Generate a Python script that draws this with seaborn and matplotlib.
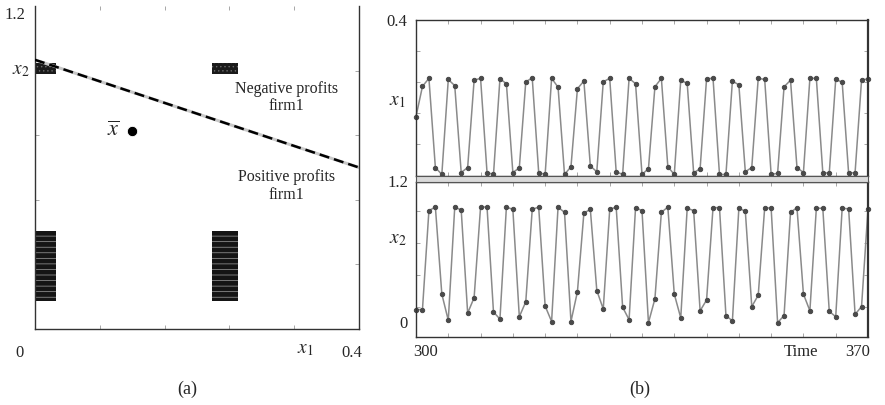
import numpy as np
import seaborn as sns
import matplotlib.pyplot as plt
from matplotlib.patches import Rectangle

# panel (a): boundary line x2 = 1 - x1, mean point, attractor clusters
boundary_x1 = [0.0, 0.4]
boundary_x2 = [1.0, 0.6]
mean_x1 = [0.12]
mean_x2 = [0.735]
# clusters as (x1 min, x1 max, x2 min, x2 max)
clusters_top = [(0.001, 0.026, 0.947, 0.99), (0.219, 0.25, 0.947, 0.99)]
clusters_bottom = [(0.001, 0.026, 0.104, 0.364), (0.219, 0.251, 0.104, 0.364)]

# panel (b): time series 300..370
time = np.arange(300, 371)
x1 = [0.15, 0.228, 0.249, 0.018, 0.0, 0.246, 0.23, 0.005, 0.018, 0.244,
      0.249, 0.005, 0.0, 0.248, 0.235, 0.005, 0.017, 0.24, 0.25, 0.005,
      0.0, 0.249, 0.226, 0.0, 0.02, 0.222, 0.242, 0.022, 0.007, 0.24,
      0.249, 0.007, 0.0, 0.249, 0.235, 0.0, 0.015, 0.227, 0.249, 0.02,
      0.0, 0.244, 0.236, 0.004, 0.015, 0.248, 0.249, 0.0, 0.0, 0.242,
      0.232, 0.007, 0.018, 0.249, 0.246, 0.0, 0.003, 0.227, 0.244, 0.018,
      0.005, 0.249, 0.249, 0.005, 0.003, 0.246, 0.239, 0.003, 0.005, 0.244,
      0.248]
x2 = [0.13, 0.13, 0.96, 0.99, 0.26, 0.04, 0.99, 0.965, 0.10, 0.23,
      0.99, 0.99, 0.11, 0.05, 0.99, 0.97, 0.07, 0.195, 0.97, 0.99,
      0.16, 0.03, 0.99, 0.945, 0.03, 0.28, 0.94, 0.97, 0.29, 0.135,
      0.97, 0.99, 0.15, 0.045, 0.985, 0.96, 0.02, 0.22, 0.945, 0.99,
      0.26, 0.06, 0.98, 0.96, 0.12, 0.21, 0.985, 0.985, 0.08, 0.035,
      0.98, 0.955, 0.155, 0.25, 0.985, 0.98, 0.02, 0.08, 0.945, 0.985,
      0.26, 0.12, 0.98, 0.98, 0.115, 0.07, 0.98, 0.975, 0.09, 0.155,
      0.975]

sns.set_style('ticks')
plt.rcParams['font.family'] = ['Liberation Serif', 'DejaVu Serif']
plt.rcParams['mathtext.fontset'] = 'stix'
plt.rcParams['hatch.linewidth'] = 0.5

W, H = 885, 405
fig = plt.figure(figsize=(W / 100, H / 100), dpi=100)
fig.patch.set_facecolor('white')


def px_axes(x0, y0, x1_, y1_):
    return fig.add_axes([x0 / W, 1 - y1_ / H, (x1_ - x0) / W, (y1_ - y0) / H])


def ftext(x, y, s, size=12, **kw):
    fig.text(x / W, 1 - y / H, s, ha='center', va='center', fontsize=size, **kw)


def style_axes(ax):
    ax.tick_params(direction='in', length=3, width=0.6, color='#999999',
                   top=True, right=True, labelleft=False, labelbottom=False)
    for sp in ax.spines.values():
        sp.set_linewidth(1.0)
        sp.set_color('#333333')


# ---- panel (a)
ax_a = px_axes(35, 6, 359, 329)
ax_a.plot(boundary_x1, boundary_x2, color='#c8c8c8', lw=2.2, zorder=2)
ax_a.plot(boundary_x1, boundary_x2, color='black', lw=1.8, ls=(0, (4, 2)), zorder=3)
sns.scatterplot(x=mean_x1, y=mean_x2, ax=ax_a, color='black', s=55, zorder=4)
for (a0, a1, b0, b1) in clusters_top:
    ax_a.add_patch(Rectangle((a0, b0), a1 - a0, b1 - b0, facecolor='#1a1a1a',
                             edgecolor='#6a6a6a', hatch='....', lw=0))
for (a0, a1, b0, b1) in clusters_bottom:
    ax_a.add_patch(Rectangle((a0, b0), a1 - a0, b1 - b0, facecolor='#151515',
                             edgecolor='#a0a0a0', hatch='---', lw=0))
ax_a.set_xlim(0, 0.4)
ax_a.set_ylim(0, 1.2)
ax_a.set_xticks([0.08, 0.16, 0.24, 0.32])
ax_a.set_yticks([0.24, 0.48, 0.72, 0.96])
ax_a.set_xlabel('')
ax_a.set_ylabel('')
style_axes(ax_a)
ax_a.spines['top'].set_visible(False)
ax_a.text(0.097, 0.735, r'$\overline{x}$', fontsize=16, ha='center', va='center')
ax_a.text(0.31, 0.86, 'Negative profits\nfirm1', fontsize=11.5, ha='center',
          va='center', linespacing=1.15)
ax_a.text(0.31, 0.53, 'Positive profits\nfirm1', fontsize=11.5, ha='center',
          va='center', linespacing=1.15)

ftext(15, 15, '1.2')
ftext(21, 70, r'$x_2$', size=14)
ftext(20, 353, '0')
ftext(305, 349, r'$x_1$', size=14)
ftext(352, 353, '0.4')
ftext(187, 389, '(a)', size=13)

# ---- panel (b)
line_kw = dict(color='#8a8a8a', lw=1.1, marker='o', markersize=3.1,
               markerfacecolor='#4a4a4a', markeredgecolor='#4a4a4a', clip_on=False)

ax_t = px_axes(416, 20, 868, 176)
sns.lineplot(x=time, y=x1, ax=ax_t, **line_kw)
ax_t.set_xlim(300, 370)
ax_t.set_ylim(-0.004, 0.4)
ax_t.set_xticks(np.arange(305, 370, 5))
ax_t.set_yticks([0.08, 0.16, 0.24, 0.32])
ax_t.set_xlabel('')
ax_t.set_ylabel('')
style_axes(ax_t)
ax_t.spines['right'].set_linewidth(1.6)

ax_b = px_axes(416, 182, 868, 337)
sns.lineplot(x=time, y=x2, ax=ax_b, **line_kw)
ax_b.set_xlim(300, 370)
ax_b.set_ylim(-0.1, 1.2)
ax_b.set_xticks(np.arange(305, 370, 5))
ax_b.set_yticks([0.15, 0.42, 0.69, 0.96])
ax_b.set_xlabel('')
ax_b.set_ylabel('')
style_axes(ax_b)
ax_b.spines['right'].set_linewidth(1.6)

# light band between the two time series panels
fig.patches.append(Rectangle((416 / W, 1 - 182 / H), 452 / W, 6 / H,
                             transform=fig.transFigure, facecolor='#dadada',
                             edgecolor='#555555', lw=0.8, zorder=0))

ftext(397, 22, '0.4')
ftext(397, 102, r'$x_1$', size=14)
ftext(398, 183, '1.2')
ftext(398, 240, r'$x_2$', size=14)
ftext(404, 324, '0')
ftext(426, 352, '300')
ftext(801, 352, 'Time')
ftext(858, 352, '370')
ftext(640, 389, '(b)', size=13)

fig.savefig('out.png', dpi=100)
